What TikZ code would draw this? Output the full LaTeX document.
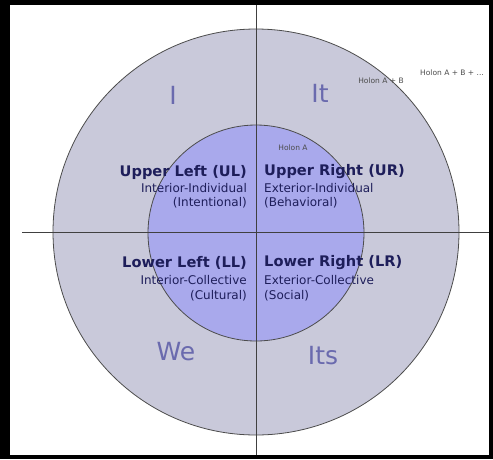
\documentclass[tikz,border=0pt]{standalone}
\usepackage{fontspec}
\setmainfont{DejaVu Sans}
\begin{document}
\begin{tikzpicture}[x=1pt,y=-1pt,
  head/.style={font=\bfseries\fontsize{14.6}{16}\selectfont, text=navy, inner sep=0pt},
  sub/.style={font=\fontsize{12}{13}\selectfont, text=navy, inner sep=0pt},
  big/.style={font=\fontsize{25}{28}\selectfont, text=bigc, inner sep=0pt},
  tiny/.style={font=\fontsize{7.5}{8}\selectfont, text=black!70, inner sep=0pt},
  axis/.style={draw=black!75, line width=0.8pt}]
\definecolor{navy}{HTML}{1E1E5A}
\definecolor{bigc}{HTML}{6A6AAE}
\definecolor{outerc}{HTML}{C9C9DA}
\definecolor{innerc}{HTML}{A9A9EC}
\useasboundingbox (0,0) rectangle (493,459);
\fill[black] (0,0) rectangle (493,459);
\fill[white] (10,5) rectangle (489,455);
\node[circle, draw=black!70, line width=0.8pt, fill=outerc, minimum size=406pt, inner sep=0pt] (outer) at (256,232) {};
\node[circle, draw=black!70, line width=0.8pt, fill=innerc, minimum size=216pt, inner sep=0pt] (inner) at (256,233) {};
\coordinate (top) at (256,5);
\coordinate (bot) at (256,455);
\coordinate (lft) at (22,232);
\coordinate (rgt) at (489,232);
\draw[axis] (top) -- (bot);
\draw[axis] (lft) -- (rgt);
\node[big] (I) at (173,95) {I};
\node[big] (It) at (320,93) {It};
\node[big] (We) at (176,352) {We};
\node[big] (Its) at (323,356) {Its};
\node[head, anchor=east] (UL) at (247,172) {Upper Left (UL)};
\node[sub, anchor=east] (ULa) at (247,188) {Interior-Individual};
\node[sub, anchor=east] (ULb) at (247,203) {(Intentional)};
\node[head, anchor=west] (UR) at (264,172) {Upper Right (UR)};
\node[sub, anchor=west] (URa) at (264,188) {Exterior-Individual};
\node[sub, anchor=west] (URb) at (264,203) {(Behavioral)};
\node[head, anchor=east] (LL) at (247,263) {Lower Left (LL)};
\node[sub, anchor=east] (LLa) at (247,280) {Interior-Collective};
\node[sub, anchor=east] (LLb) at (247,296) {(Cultural)};
\node[head, anchor=west] (LR) at (264,263) {Lower Right (LR)};
\node[sub, anchor=west] (LRa) at (264,280) {Exterior-Collective};
\node[sub, anchor=west] (LRb) at (264,296) {(Social)};
\node[tiny] (h1) at (293,148) {Holon A};
\node[tiny] (h2) at (381,81) {Holon A + B};
\node[tiny] (h3) at (452,73) {Holon A + B + ...};
\end{tikzpicture}
\end{document}
